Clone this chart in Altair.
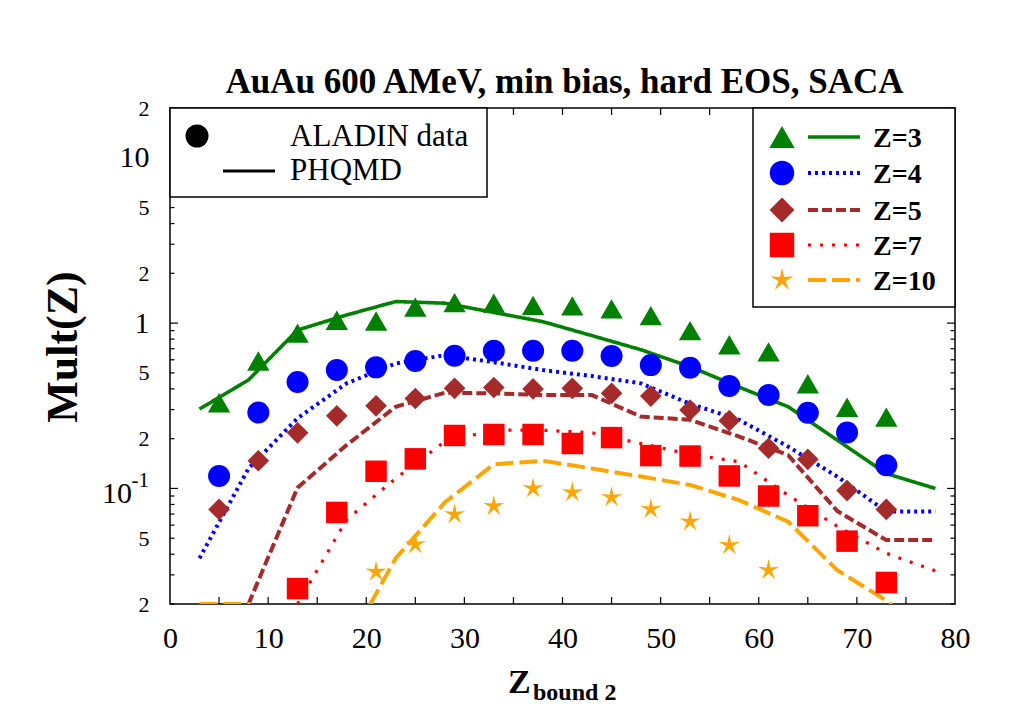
import math
import altair as alt
import pandas as pd

# ---------------------------------------------------------------- data
SERIES = ["Z=3", "Z=4", "Z=5", "Z=7", "Z=10"]

# ALADIN data: multiplicity vs Z_bound2
Z_DATA = [5, 9, 13, 17, 21, 25, 29, 33, 37, 41, 45, 49, 53, 57, 61, 65, 69, 73]
ALADIN_Z3 = [0.33, 0.59, 0.87, 1.04, 1.03, 1.25, 1.33, 1.32, 1.28, 1.27,
             1.22, 1.11, 0.90, 0.74, 0.67, 0.43, 0.31, 0.27]
ALADIN_Z4 = [0.119, 0.288, 0.44, 0.52, 0.54, 0.59, 0.635, 0.68, 0.68, 0.68,
             0.632, 0.557, 0.537, 0.416, 0.367, 0.287, 0.218, 0.138]
ALADIN_Z5 = [0.0747, 0.147, 0.217, 0.275, 0.316, 0.35, 0.403, 0.408, 0.40, 0.403,
             0.376, 0.362, 0.298, 0.257, 0.175, 0.15, 0.097, 0.0747]
Z_DATA_Z7 = [13, 17, 21, 25, 29, 33, 37, 41, 45, 49, 53, 57, 61, 65, 69, 73]
ALADIN_Z7 = [0.0248, 0.0716, 0.127, 0.151, 0.209, 0.212, 0.212, 0.187,
             0.203, 0.158, 0.157, 0.119, 0.09, 0.0684, 0.048, 0.027]
Z_DATA_Z10 = [21, 25, 29, 33, 37, 41, 45, 49, 53, 57, 61]
ALADIN_Z10 = [0.0313, 0.0458, 0.0697, 0.0782, 0.100, 0.0946, 0.0883, 0.075,
              0.0629, 0.0454, 0.032]

# PHQMD (hard EOS, SACA) curves
Z_MODEL = [3, 8, 13, 18, 23, 28, 33, 38, 43, 48, 53, 58, 63, 68, 73, 78]
PHQMD_Z3 = [0.302, 0.453, 0.908, 1.12, 1.35, 1.32, 1.16, 1.02, 0.84, 0.69,
            0.545, 0.41, 0.312, 0.196, 0.123, 0.100]
PHQMD_Z4 = [0.0378, 0.132, 0.266, 0.432, 0.57, 0.64, 0.58, 0.52, 0.478, 0.432,
            0.325, 0.26, 0.179, 0.118, 0.0725, 0.0725]
Z_MODEL_Z5 = [8, 13, 18, 23, 28, 33, 38, 43, 48, 53, 58, 63, 68, 73, 78]
PHQMD_Z5 = [0.02, 0.101, 0.183, 0.312, 0.379, 0.376, 0.367, 0.367, 0.272, 0.26,
            0.206, 0.159, 0.073, 0.0487, 0.0487]
Z_MODEL_Z7 = [13, 18, 23, 28, 33, 38, 43, 48, 53, 58, 63, 68, 73, 78]
PHQMD_Z7 = [0.02, 0.0647, 0.115, 0.192, 0.225, 0.225, 0.217, 0.187, 0.161,
            0.145, 0.091, 0.059, 0.0405, 0.0318]
PHQMD_Z10 = [0.02, 0.02, 0.010, 0.011, 0.0378, 0.0822, 0.14, 0.147, 0.132,
             0.118, 0.105, 0.085, 0.0629, 0.032, 0.021, 0.0115]

DATA_X = [Z_DATA, Z_DATA, Z_DATA, Z_DATA_Z7, Z_DATA_Z10]
DATA_Y = [ALADIN_Z3, ALADIN_Z4, ALADIN_Z5, ALADIN_Z7, ALADIN_Z10]
MODEL_X = [Z_MODEL, Z_MODEL, Z_MODEL_Z5, Z_MODEL_Z7, Z_MODEL]
MODEL_Y = [PHQMD_Z3, PHQMD_Z4, PHQMD_Z5, PHQMD_Z7, PHQMD_Z10]

# axis ticks and labels
X_LABELS = [0, 10, 20, 30, 40, 50, 60, 70, 80]
X_TICKS = [5, 10, 15, 20, 25, 30, 35, 40, 45, 50, 55, 60, 65, 70, 75]
Y_MAJOR = [0.1, 1, 10]
Y_MINOR = [0.02, 0.03, 0.04, 0.05, 0.06, 0.07, 0.08, 0.09,
           0.2, 0.3, 0.4, 0.5, 0.6, 0.7, 0.8, 0.9,
           2, 3, 4, 5, 6, 7, 8, 9, 20]
Y_LABEL_VALUES = [0.02, 0.05, 0.1, 0.2, 0.5, 1, 2, 5, 10, 20]
Y_LABEL_TEXT = ["2", "5", "", "2", "5", "1", "2", "5", "10", "2"]

# ---------------------------------------------------------------- styles
W, H = 785, 496
SERIF = "Liberation Serif"
COLORS = ["#008000", "#0000ff", "#a52a2a", "#ff0000", "#ffa500"]


def star_path(inner=0.3):
    pts = []
    for k in range(10):
        a = math.radians(-90 + 36 * k)
        r = 1.0 if k % 2 == 0 else inner
        pts.append(f"{r * math.cos(a):.3f},{r * math.sin(a):.3f}")
    return "M" + " L".join(pts) + " Z"


STAR = star_path()
SHAPES = ["triangle-up", "circle", "diamond", "square", STAR]
SIZES = [500, 484, 470, 462, 500]
LEGEND_SIZES = [640, 600, 620, 600, 600]
DASHES = [[1, 0], [3, 4], [10, 4], [3, 9], [18, 6]]
WIDTHS = [3.6, 4.0, 4.0, 3.2, 4.0]

xs = alt.Scale(domain=[0, 80], nice=False, zero=False)
ys = alt.Scale(type="log", domain=[0.02, 20], nice=False)

label_expr = "''"
for v, t in reversed(list(zip(Y_LABEL_VALUES, Y_LABEL_TEXT))):
    label_expr = f"abs(datum.value - {v}) < {v / 1000} ? '{t}' : ({label_expr})"

x_axis = alt.Axis(values=X_LABELS, title=None, grid=False, domain=False, ticks=False,
                  tickSize=0, labelFont=SERIF, labelFontSize=30, labelColor="black",
                  labelPadding=19, labelOverlap=False, labelFlush=False)
y_axis = alt.Axis(values=Y_LABEL_VALUES, title=None, grid=False, domain=False, ticks=False,
                  tickSize=0, labelFont=SERIF, labelColor="black", labelPadding=21,
                  labelOverlap=False, labelFlush=False, labelExpr=label_expr,
                  labelFontSize={"condition": {"test": "datum.value == 1 || datum.value == 10",
                                               "value": 30},
                                 "value": 22})

ONE = pd.DataFrame({"k": [0]})
layers = []

# inward ticks on all four sides
ymin_df = pd.DataFrame({"v": Y_MINOR})
ymaj_df = pd.DataFrame({"v": Y_MAJOR})
xt_df = pd.DataFrame({"v": X_TICKS})
for df, ln in [(ymin_df, 4.5), (ymaj_df, 8)]:
    for x0, x1 in [(0, ln), (W - ln, W)]:
        layers.append(alt.Chart(df).mark_rule(color="black", strokeWidth=1.2).encode(
            y=alt.Y("v:Q", scale=ys, axis=y_axis),
            x=alt.value(x0), x2=alt.value(x1)))
for y0, y1 in [(H - 7, H), (0, 7)]:
    layers.append(alt.Chart(xt_df).mark_rule(color="black", strokeWidth=1.2).encode(
        x=alt.X("v:Q", scale=xs, axis=x_axis),
        y=alt.value(y0), y2=alt.value(y1)))

# PHQMD curves
for i, name in enumerate(SERIES):
    df = pd.DataFrame({"z": MODEL_X[i], "mult": MODEL_Y[i]})
    layers.append(alt.Chart(df).mark_line(
        color=COLORS[i], strokeWidth=WIDTHS[i], strokeDash=DASHES[i],
        strokeCap="butt", clip=True).encode(
        x=alt.X("z:Q", scale=xs, axis=x_axis),
        y=alt.Y("mult:Q", scale=ys, axis=y_axis),
        order="z:Q"))

# ALADIN points
for i, name in enumerate(SERIES):
    df = pd.DataFrame({"z": DATA_X[i], "mult": DATA_Y[i]})
    layers.append(alt.Chart(df).mark_point(
        filled=True, opacity=1, color=COLORS[i], shape=SHAPES[i],
        size=SIZES[i], strokeWidth=0).encode(
        x=alt.X("z:Q", scale=xs, axis=x_axis),
        y=alt.Y("mult:Q", scale=ys, axis=y_axis)))

# 10^-1 label
tenth = pd.DataFrame({"v": [0.1]})
layers.append(alt.Chart(tenth).mark_text(
    text="10", font=SERIF, fontSize=30, align="right", baseline="middle",
    dy=6, color="black").encode(
    y=alt.Y("v:Q", scale=ys, axis=y_axis), x=alt.value(-38)))
layers.append(alt.Chart(tenth).mark_text(
    text="-1", font=SERIF, fontSize=21, align="right", baseline="middle",
    dy=-7, color="black").encode(
    y=alt.Y("v:Q", scale=ys, axis=y_axis), x=alt.value(-21)))

# legend: data vs model
layers.append(alt.Chart(ONE).mark_rect(fill="white", stroke="black", strokeWidth=1.5).encode(
    x=alt.value(0), x2=alt.value(317), y=alt.value(0), y2=alt.value(89)))
layers.append(alt.Chart(ONE).mark_point(filled=True, opacity=1, color="black",
                                        shape="circle", size=529).encode(
    x=alt.value(27), y=alt.value(28)))
layers.append(alt.Chart(ONE).mark_rule(color="black", strokeWidth=3).encode(
    x=alt.value(53), x2=alt.value(105), y=alt.value(63)))
for txt, yb in [("ALADIN data", 38), ("PHQMD", 72)]:
    layers.append(alt.Chart(ONE).mark_text(
        text=txt, font=SERIF, fontSize=31, align="left", baseline="alphabetic",
        color="black").encode(x=alt.value(120), y=alt.value(yb)))

# legend: charges
LEG_Y = [29, 65, 102, 137, 172]
layers.append(alt.Chart(ONE).mark_rect(fill="white", stroke="black", strokeWidth=1.5).encode(
    x=alt.value(583), x2=alt.value(W), y=alt.value(0), y2=alt.value(199)))
for i, name in enumerate(SERIES):
    yy = LEG_Y[i]
    layers.append(alt.Chart(ONE).mark_point(
        filled=True, opacity=1, color=COLORS[i], shape=SHAPES[i],
        size=LEGEND_SIZES[i], strokeWidth=0).encode(
        x=alt.value(612), y=alt.value(yy)))
    layers.append(alt.Chart(ONE).mark_rule(
        color=COLORS[i], strokeWidth=WIDTHS[i], strokeDash=DASHES[i],
        strokeCap="butt").encode(
        x=alt.value(638), x2=alt.value(690), y=alt.value(yy)))
    layers.append(alt.Chart(ONE).mark_text(
        text=name, font=SERIF, fontSize=28, fontWeight="bold", align="left",
        baseline="alphabetic", color="black").encode(
        x=alt.value(703), y=alt.value(yy + 10)))

# titles
layers.append(alt.Chart(ONE).mark_text(
    text="AuAu 600 AMeV, min bias, hard EOS, SACA", font=SERIF, fontSize=35,
    fontWeight="bold", align="center", baseline="alphabetic", color="black").encode(
    x=alt.value(W / 2 + 2), y=alt.value(-15)))
layers.append(alt.Chart(ONE).mark_text(
    text="Mult(Z)", font=SERIF, fontSize=44, fontWeight="bold", align="center",
    baseline="middle", angle=270, color="black").encode(
    x=alt.value(-106), y=alt.value(239)))
layers.append(alt.Chart(ONE).mark_text(
    text="Z", font=SERIF, fontSize=34, fontWeight="bold", align="left",
    baseline="alphabetic", color="black").encode(
    x=alt.value(338), y=alt.value(585)))
layers.append(alt.Chart(ONE).mark_text(
    text="bound 2", font=SERIF, fontSize=24, fontWeight="bold", align="left",
    baseline="alphabetic", color="black").encode(
    x=alt.value(363), y=alt.value(592)))

chart = alt.layer(*layers).properties(
    width=W, height=H,
    autosize=alt.AutoSizeParams(type="none"),
    padding={"left": 170, "top": 108, "right": 54, "bottom": 109},
).configure_view(stroke="black", strokeWidth=1.5)

chart.save("out.html", embed_options={"renderer": "svg", "actions": False})
